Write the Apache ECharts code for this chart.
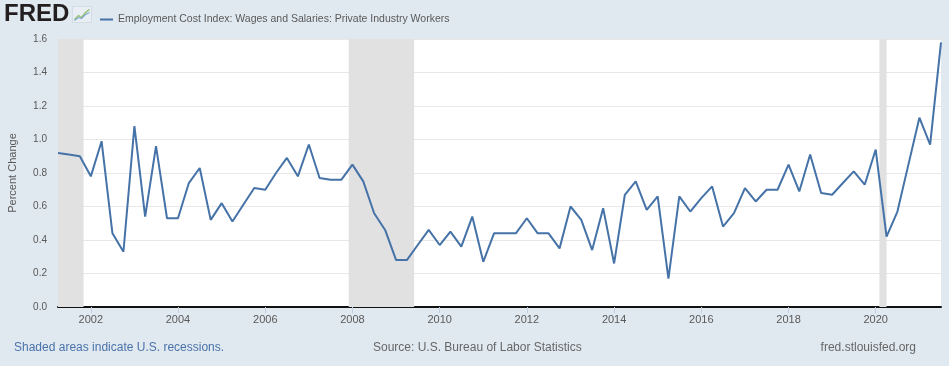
<!DOCTYPE html>
<html>
<head>
<meta charset="utf-8">
<script src="https://cdn.jsdelivr.net/npm/echarts@6/dist/echarts.min.js"></script>
<style>
html,body{margin:0;padding:0;background:#e1e9f0;}
#c{width:949px;height:366px;}
</style>
</head>
<body>
<div id="c"></div>
<script>
// ---- data ----
var seriesName = 'Employment Cost Index: Wages and Salaries: Private Industry Workers';
var startYear = 2001, startQuarter = 2; // first observation 2001 Q2
var values = [
  0.92, 0.91, 0.90,
  0.78, 0.99, 0.44, 0.33,
  1.08, 0.54, 0.96, 0.53,
  0.53, 0.74, 0.83, 0.52,
  0.62, 0.51, 0.61, 0.71,
  0.70, 0.80, 0.89, 0.78,
  0.97, 0.77, 0.76, 0.76,
  0.85, 0.75, 0.56, 0.46,
  0.28, 0.28, 0.37, 0.46,
  0.37, 0.45, 0.36, 0.54,
  0.27, 0.44, 0.44, 0.44,
  0.53, 0.44, 0.44, 0.35,
  0.60, 0.52, 0.34, 0.59,
  0.26, 0.67, 0.75, 0.58,
  0.66, 0.17, 0.66, 0.57,
  0.65, 0.72, 0.48, 0.56,
  0.71, 0.63, 0.70, 0.70,
  0.85, 0.69, 0.91, 0.68,
  0.67, 0.74, 0.81, 0.73,
  0.94, 0.42, 0.57, 0.85,
  1.13, 0.97, 1.58
];
var recessionStarts = ['2001-04-01', '2007-12-01', '2020-02-01'];
var recessionEnds   = ['2001-11-01', '2009-06-01', '2020-04-01'];
var xTickYears = [2002, 2004, 2006, 2008, 2010, 2012, 2014, 2016, 2018, 2020];
var yTicks = [0.0, 0.2, 0.4, 0.6, 0.8, 1.0, 1.2, 1.4, 1.6];

// ---- build ----
function pad(n){return n<10?'0'+n:''+n;}
function ts(s){return Date.UTC(+s.slice(0,4), +s.slice(5,7)-1, +s.slice(8,10));}
var dates = [];
(function(){
  var y = startYear, q = startQuarter;
  for (var i = 0; i < values.length; i++) {
    dates.push(y + '-' + pad((q-1)*3+1) + '-01');
    q++; if (q > 4) { q = 1; y++; }
  }
})();
var seriesData = dates.map(function(d,i){return [ts(d), values[i]];});
var tickValues = xTickYears.map(function(y){return ts(y + '-01-01');});
var recessionAreas = recessionStarts.map(function(s,i){return [{xAxis:ts(s)},{xAxis:ts(recessionEnds[i])}];});

var FONT = 'Liberation Sans, Arial, sans-serif';
var chart = echarts.init(document.getElementById('c'), null, {renderer:'canvas'});
chart.setOption({
  backgroundColor: '#e1e9f0',
  animation: false,
  textStyle: {fontFamily: FONT},
  grid: {left: 58, right: 8, top: 39, bottom: 59, containLabel: false, outerBoundsMode: 'none',
         show: true, backgroundColor: '#ffffff', borderWidth: 0},
  legend: {
    left: 95, top: 9, itemWidth: 13, itemHeight: 2, icon: 'rect', itemGap: 6,
    textStyle: {fontSize: 10.5, color: '#595959', fontFamily: FONT},
    data: [{name: seriesName, itemStyle: {color: '#4572a7'}}]
  },
  xAxis: {
    type: 'value',
    min: ts(dates[0]), max: ts(dates[dates.length-1]),
    axisLine: {show: true, onZero: false, lineStyle: {color: '#111', width: 2}},
    axisTick: {show: true, customValues: tickValues, length: 6, lineStyle: {color: '#c0d0e0', width: 1}},
    axisLabel: {customValues: tickValues, color: '#595959', fontSize: 11, margin: 7,
      formatter: function(v){return new Date(v).getUTCFullYear() + '';}},
    splitLine: {show: false}
  },
  yAxis: {
    type: 'value', min: 0, max: 1.6, interval: 0.2,
    name: 'Percent Change', nameLocation: 'middle', nameRotate: 90, nameGap: 40,
    nameTextStyle: {color: '#595959', fontSize: 11, fontFamily: FONT},
    axisLine: {show: false}, axisTick: {show: false},
    axisLabel: {color: '#595959', fontSize: 10, margin: 11, formatter: function(v){return v.toFixed(1);}},
    splitLine: {lineStyle: {color: '#e8e8e8', width: 1}}
  },
  series: [{
    name: seriesName, type: 'line', data: seriesData, showSymbol: false, symbol: 'none',
    lineStyle: {color: '#4572a7', width: 2}, itemStyle: {color: '#4572a7'},
    markArea: {silent: true, itemStyle: {color: '#e1e1e1'}, data: recessionAreas}
  }],
  graphic: [
    {type: 'text', left: 4, top: 2, style: {text: 'FRED', font: '900 24px ' + FONT, fill: '#231f20'}},
    {type: 'group', left: 72, top: 6, children: [
      {type: 'rect', shape: {x: 0, y: 0, width: 19, height: 16}, style: {fill: '#e8eef3', stroke: '#d3dde6', lineWidth: 1}},
      {type: 'polyline', shape: {points: [[2,13],[6,9],[9,11],[13,6],[17,3]]}, style: {stroke: '#8fbf6a', lineWidth: 1.3, fill: null}},
      {type: 'polyline', shape: {points: [[2,14],[6,11],[9,12],[13,8],[17,6]]}, style: {stroke: '#7fa6cf', lineWidth: 1.1, fill: null}}
    ]},
    {type: 'text', left: 14, top: 342, style: {text: 'Shaded areas indicate U.S. recessions.', font: '12px ' + FONT, fill: '#4a72aa'}},
    {type: 'text', left: 373, top: 342, style: {text: 'Source: U.S. Bureau of Labor Statistics', font: '12px ' + FONT, fill: '#666666'}},
    {type: 'text', right: 33, top: 342, style: {text: 'fred.stlouisfed.org', font: '12px ' + FONT, fill: '#666666'}}
  ]
});
</script>
</body>
</html>
